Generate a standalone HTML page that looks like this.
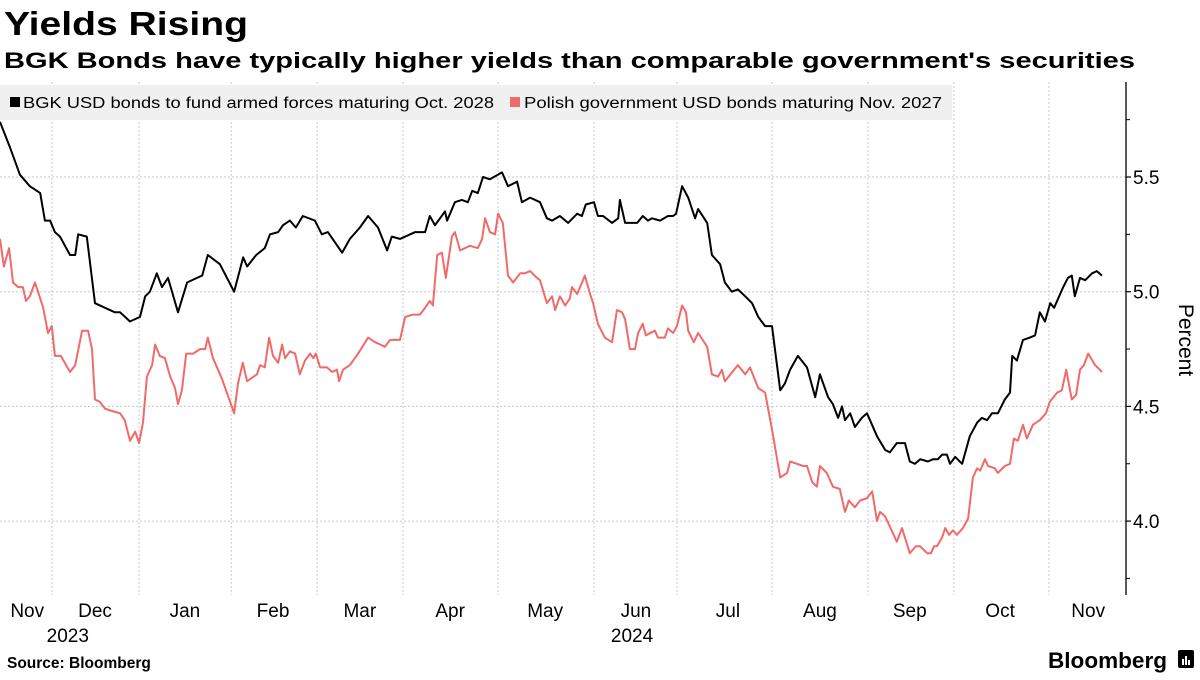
<!DOCTYPE html>
<html><head><meta charset="utf-8">
<style>
html,body{margin:0;padding:0;background:#fff;}
body{width:1200px;height:675px;overflow:hidden;font-family:"Liberation Sans",sans-serif;}
svg text{font-family:"Liberation Sans",sans-serif;}
</style></head>
<body>
<svg id="chart" width="1200" height="675" viewBox="0 0 1200 675" xmlns="http://www.w3.org/2000/svg">
  <g id="grid"></g>
  <text x="4" y="35" font-size="33" font-weight="bold" fill="#000" textLength="244" lengthAdjust="spacingAndGlyphs">Yields Rising</text>
  <text x="4" y="68" font-size="22" font-weight="bold" fill="#000" textLength="1131" lengthAdjust="spacingAndGlyphs">BGK Bonds have typically higher yields than comparable government's securities</text>
  <g>
    <rect x="0" y="85" width="952" height="35" fill="#f0f0f0"/>
    <rect x="10" y="97" width="10" height="10" fill="#000"/>
    <text x="23" y="108" font-size="15.5" fill="#000" textLength="471" lengthAdjust="spacingAndGlyphs">BGK USD bonds to fund armed forces maturing Oct. 2028</text>
    <rect x="510" y="97" width="10" height="10" fill="#f06a6a"/>
    <text x="524" y="108" font-size="15.5" fill="#000" textLength="418" lengthAdjust="spacingAndGlyphs">Polish government USD bonds maturing Nov. 2027</text>
  </g>
  <g id="series"></g>
  <g id="axis"></g>
  <g id="xaxis"></g>
  <text transform="translate(1179,340) rotate(90)" font-size="21" text-anchor="middle" fill="#000">Percent</text>
  <text x="7" y="668" font-size="15.5" font-weight="bold" fill="#000">Source: Bloomberg</text>
  <text x="1048" y="668" font-size="22" font-weight="bold" fill="#000" textLength="119" lengthAdjust="spacingAndGlyphs">Bloomberg</text>
  <g>
    <rect x="1178" y="650" width="16" height="18" rx="2" fill="#000"/>
    <rect x="1182" y="659" width="2" height="6" fill="#fff"/>
    <rect x="1185" y="656" width="2" height="9" fill="#fff"/>
    <rect x="1188" y="660" width="2" height="5" fill="#fff"/>
  </g>
</svg>
<script>
const yTicks = [4.0, 4.5, 5.0, 5.5];
const yMinorTicks = [3.75, 4.25, 4.75, 5.25, 5.75];
const monthLabels = ["Nov","Dec","Jan","Feb","Mar","Apr","May","Jun","Jul","Aug","Sep","Oct","Nov"];
const monthLabelDays = [6.3, 22.0, 42.8, 63.2, 83.3, 104.2, 126.2, 147.2, 168.5, 189.8, 210.6, 231.5, 251.9];
const monthStartDays = [12.0, 32.2, 53.5, 73.4, 93.3, 115.3, 137.5, 156.7, 178.7, 200.9, 220.8, 242.8];
const yearLabels = ["2023","2024"];
const yearLabelDays = [15.7, 146.3];

const bgkDays = [0,2.3,4.6,6.9,9.3,10.4,11.6,12.7,13.9,16.2,17.4,18.1,20.1,22.0,24.3,26.6,27.8,30.1,32.4,33.6,34.7,36.3,37.5,38.9,41.2,43.3,45.6,46.8,48.1,50.9,
54.2,56.3,57.2,59.3,61.3,62.5,64.4,65.5,67.1,68.5,70.1,72.9,74.5,75.9,79.2,81.0,83.3,85.2,87.5,89.6,90.7,92.6,96.1,98.4,99.5,100.7,103.0,103.5,105.3,106.9,
108.3,109.3,110.6,111.8,113.4,116.2,117.6,119.7,120.8,122.7,125.0,126.6,127.8,129.6,131.5,133.6,134.7,135.6,137.5,138.4,139.6,141.7,143.1,143.5,144.7,147.5,148.8,150.0,150.9,152.8,
154.6,155.8,156.5,157.9,159.3,160.9,161.6,163.7,164.8,166.7,167.8,169.4,170.8,172.5,174.1,175.5,177.1,178.7,180.6,181.7,182.9,184.7,186.8,188.7,189.8,191.7,192.8,194.0,194.9,195.6,
196.8,197.9,199.5,200.7,203.0,204.9,206.0,207.6,209.5,210.6,211.8,213.0,214.8,216.0,217.1,218.1,219.2,219.9,221.1,222.7,224.5,226.2,227.3,228.5,229.6,231.0,232.6,233.8,234.3,235.4,
236.8,238.4,239.6,240.7,241.9,243.1,244.0,246.1,247.2,248.1,248.8,250.0,251.2,252.8,253.9,255.1];
const bgkYields = [5.74,5.63,5.51,5.46,5.43,5.31,5.31,5.26,5.24,5.16,5.16,5.25,5.24,4.95,4.93,4.91,4.91,4.87,4.89,4.98,5.00,5.08,5.02,5.06,4.91,5.04,5.06,5.07,5.16,5.12,
5.00,5.15,5.11,5.16,5.19,5.25,5.26,5.29,5.31,5.28,5.33,5.31,5.25,5.26,5.17,5.23,5.28,5.33,5.28,5.18,5.24,5.23,5.26,5.26,5.33,5.29,5.35,5.31,5.39,5.40,
5.39,5.44,5.43,5.50,5.49,5.52,5.46,5.48,5.39,5.41,5.39,5.32,5.31,5.33,5.30,5.34,5.33,5.38,5.39,5.33,5.33,5.30,5.32,5.40,5.30,5.30,5.33,5.31,5.32,5.31,
5.33,5.33,5.34,5.46,5.41,5.32,5.36,5.30,5.16,5.12,5.04,5.00,5.01,4.98,4.95,4.89,4.85,4.85,4.57,4.60,4.66,4.72,4.67,4.54,4.64,4.54,4.51,4.45,4.50,4.44,
4.47,4.41,4.45,4.47,4.37,4.31,4.30,4.34,4.34,4.26,4.25,4.27,4.26,4.27,4.27,4.29,4.29,4.25,4.28,4.25,4.37,4.43,4.45,4.44,4.47,4.47,4.53,4.56,4.72,4.70,
4.79,4.80,4.81,4.91,4.87,4.95,4.93,5.02,5.06,5.07,4.98,5.06,5.05,5.08,5.09,5.07];

const polDays = [0,0.9,2.1,3.0,4.2,5.3,6.0,6.9,8.1,10.0,11.1,12.0,12.7,14.1,16.2,17.4,19.0,20.4,21.3,22.0,23.1,24.3,25.9,27.8,28.9,30.1,31.3,32.2,33.1,34.0,
35.2,35.9,37.0,38.2,39.4,40.5,41.2,42.1,43.1,44.7,46.3,47.5,48.1,49.3,51.4,54.2,55.1,56.2,57.2,59.5,60.2,61.3,62.3,63.2,64.4,65.3,66.0,67.1,68.3,69.4,
70.6,71.8,72.5,73.1,74.1,75.7,76.9,78.0,78.5,79.4,81.0,82.9,85.2,86.8,88.0,89.1,90.3,92.6,93.8,95.6,97.2,98.4,99.5,100.2,101.2,102.3,103.2,104.6,105.3,106.5,
108.8,110.6,111.6,112.3,113.4,114.6,115.3,116.4,117.6,118.8,120.4,121.5,122.7,124.3,125.0,126.6,127.8,128.5,129.6,130.8,131.9,132.4,133.6,135.4,136.6,137.3,138.4,140.0,141.7,142.8,
144.0,144.7,145.8,147.0,147.7,148.8,149.5,151.6,152.3,153.9,154.6,155.8,156.7,157.9,158.8,159.3,160.6,161.6,163.7,164.8,166.2,167.1,167.8,170.8,172.5,173.6,175.5,177.1,178.7,180.6,
182.2,182.9,184.5,185.9,186.8,188.0,189.1,189.8,191.4,192.8,194.4,195.6,196.5,197.9,199.1,200.7,201.9,203.0,203.7,204.9,207.6,208.8,210.6,212.0,213.0,214.6,215.5,216.2,216.9,218.1,
218.8,219.7,220.6,221.5,222.9,224.1,225.2,226.2,226.9,228.0,228.7,230.3,231.0,232.6,233.8,234.7,235.6,236.8,237.7,239.1,240.7,242.1,243.0,244.7,245.8,246.8,248.1,249.1,250.0,250.9,
251.9,253.5,255.1];
const polYields = [5.23,5.11,5.19,5.04,5.02,5.02,4.96,4.98,5.04,4.93,4.82,4.85,4.72,4.72,4.65,4.68,4.83,4.83,4.75,4.53,4.52,4.49,4.48,4.47,4.44,4.35,4.39,4.34,4.43,4.63,
4.68,4.77,4.72,4.71,4.63,4.58,4.51,4.57,4.73,4.73,4.75,4.75,4.80,4.71,4.62,4.47,4.60,4.69,4.61,4.64,4.68,4.67,4.80,4.72,4.69,4.77,4.71,4.74,4.73,4.64,
4.70,4.73,4.71,4.73,4.67,4.67,4.65,4.66,4.61,4.66,4.68,4.73,4.80,4.78,4.77,4.76,4.79,4.79,4.89,4.90,4.90,4.93,4.96,4.94,5.16,5.17,5.06,5.24,5.26,5.18,
5.20,5.19,5.23,5.32,5.26,5.25,5.34,5.30,5.07,5.04,5.08,5.08,5.09,5.06,5.05,4.95,4.98,4.92,4.98,4.94,4.97,5.02,4.99,5.07,4.99,4.95,4.86,4.80,4.78,4.92,
4.91,4.88,4.75,4.75,4.82,4.86,4.81,4.83,4.80,4.80,4.84,4.82,4.85,4.94,4.91,4.83,4.78,4.82,4.76,4.64,4.63,4.66,4.61,4.68,4.64,4.67,4.58,4.56,4.40,4.19,
4.21,4.26,4.25,4.24,4.24,4.17,4.15,4.24,4.21,4.15,4.14,4.04,4.09,4.06,4.09,4.10,4.13,4.00,4.04,4.02,3.91,3.97,3.86,3.89,3.89,3.86,3.86,3.89,3.89,3.93,
3.97,3.94,3.96,3.94,3.97,4.01,4.19,4.23,4.22,4.27,4.24,4.23,4.21,4.24,4.25,4.36,4.35,4.42,4.36,4.42,4.44,4.47,4.52,4.56,4.57,4.66,4.53,4.55,4.66,4.68,
4.73,4.68,4.65];

const NS = "http://www.w3.org/2000/svg";
const PX_PER_DAY = 4.32, PLOT_LEFT = 0, AXIS_X = 1126, PLOT_TOP = 82, PLOT_BOTTOM = 595;
function xScale(d){ return PLOT_LEFT + d * PX_PER_DAY; }
function yScale(v){ return 291.7 - (v - 5.0) * 229.4; }
function mk(tag, attrs, parent){
  const e = document.createElementNS(NS, tag);
  for (const k in attrs) e.setAttribute(k, attrs[k]);
  parent.appendChild(e);
  return e;
}
const grid = document.getElementById('grid');
const axis = document.getElementById('axis');
const xaxis = document.getElementById('xaxis');
const series = document.getElementById('series');

yTicks.forEach(v => {
  const y = yScale(v);
  const g = mk('line', {x1:0, x2:AXIS_X, y1:y, y2:y, stroke:'#c8c8c8', 'stroke-width':1, 'stroke-dasharray':'2,2'}, grid);
  
  
  const t = mk('line', {x1:AXIS_X, x2:AXIS_X+5, y1:y, y2:y, stroke:'#000', 'stroke-width':1.2}, axis);
  
  
  const lbl = mk('text', {x:AXIS_X+7, y:y+7, 'font-size':19, fill:'#000'}, axis);
  lbl.textContent = v.toFixed(1);
  
  
});
yMinorTicks.forEach(v => {
  const y = yScale(v);
  const t = mk('line', {x1:AXIS_X, x2:AXIS_X+4, y1:y, y2:y, stroke:'#000', 'stroke-width':1}, axis);
  
  
});
const axLine = mk('line', {x1:AXIS_X, x2:AXIS_X, y1:PLOT_TOP, y2:PLOT_BOTTOM, stroke:'#000', 'stroke-width':1.3}, axis);



monthStartDays.forEach(d => {
  const x = xScale(d);
  const g = mk('line', {x1:x, x2:x, y1:PLOT_TOP, y2:PLOT_BOTTOM, stroke:'#c8c8c8', 'stroke-width':1, 'stroke-dasharray':'2,2'}, grid);
  
  
});
monthLabels.forEach((m, i) => {
  const t = mk('text', {x:xScale(monthLabelDays[i]), y:617, 'font-size':19, 'text-anchor':'middle', fill:'#000'}, xaxis);
  t.textContent = m;
  
  
});
yearLabels.forEach((yr, i) => {
  const t = mk('text', {x:xScale(yearLabelDays[i]), y:642, 'font-size':19, 'text-anchor':'middle', fill:'#000'}, xaxis);
  t.textContent = yr;
  
  
});

function drawLine(days, vals, color, name){
  const pts = days.map((d, i) => xScale(d).toFixed(1) + ',' + yScale(vals[i]).toFixed(1)).join(' ');
  const p = mk('polyline', {points:pts, fill:'none', stroke:color, 'stroke-width':2, 'stroke-linejoin':'round'}, series);
  
  
}
drawLine(polDays, polYields, '#f06a6a', 'polish-government-line');
drawLine(bgkDays, bgkYields, '#000000', 'bgk-bonds-line');
</script>
</body></html>
